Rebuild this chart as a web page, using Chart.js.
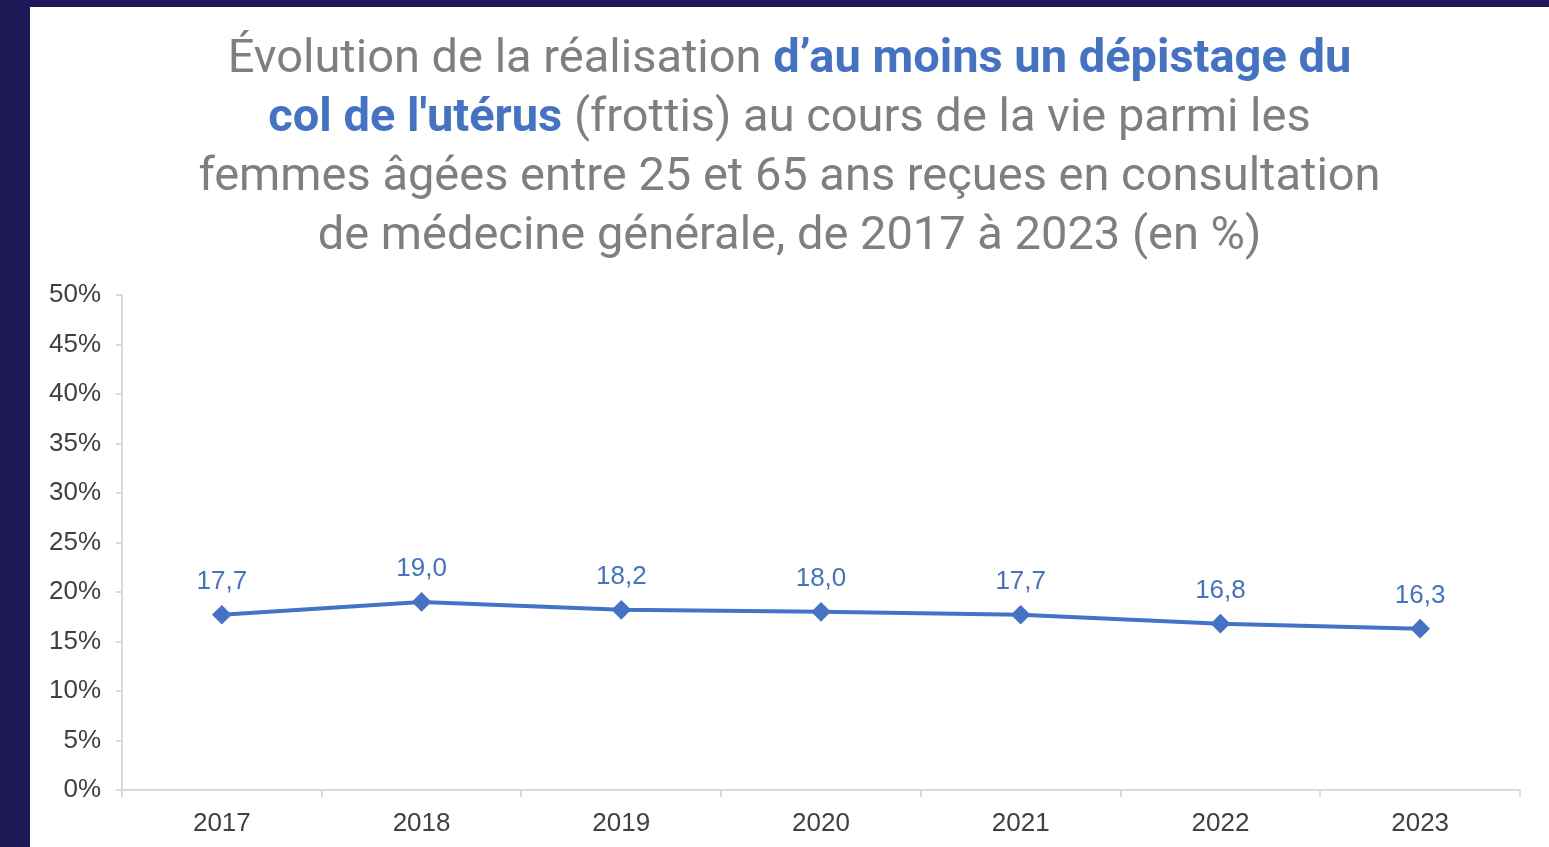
<!DOCTYPE html>
<html><head><meta charset="utf-8">
<script src="https://cdn.jsdelivr.net/npm/chart.js@4.4.1/dist/chart.umd.min.js"></script>
<style>
html,body{margin:0;padding:0;width:1549px;height:847px;overflow:hidden;background:#1f1a57;}
#panel{position:absolute;left:30px;top:7px;width:1519px;height:840px;background:#fff;}
#title{position:absolute;left:0;top:19px;width:1519px;text-align:center;font-family:Roboto,"Noto Sans",sans-serif;font-size:47px;line-height:59px;color:#7f7f7f;}
#title b{color:#4472c4;font-weight:700;}
#wrap{position:absolute;left:0;top:0;width:1519px;height:840px;}
</style></head><body>
<div id="panel">
<div id="wrap"><canvas id="c"></canvas></div>
<div id="title">Évolution de la réalisation <b>d’au moins un dépistage du<br>col de l'utérus</b> (frottis) au cours de la vie parmi les<br>femmes âgées entre 25 et 65 ans reçues en consultation<br>de médecine générale, de 2017 à 2023 (en %)</div>
</div>
<script>
const categories = ["2017","2018","2019","2020","2021","2022","2023"];
const values = [17.7, 19.0, 18.2, 18.0, 17.7, 16.8, 16.3];
const valueLabels = ["17,7","19,0","18,2","18,0","17,7","16,8","16,3"];

const labelPlugin = {
  id:'valLabels',
  afterDatasetsDraw(chart){
    const ctx = chart.ctx;
    const meta = chart.getDatasetMeta(0);
    ctx.save();
    ctx.font = '26px "Liberation Sans", Arial, sans-serif';
    ctx.fillStyle = '#4472c4';
    ctx.textAlign = 'center';
    ctx.textBaseline = 'middle';
    meta.data.forEach((pt,i)=>{ ctx.fillText(valueLabels[i], pt.x, pt.y - 33); });
    ctx.restore();
  }
};

new Chart(document.getElementById('c'), {
  type:'line',
  data:{labels:categories, datasets:[{data:values, borderColor:'#4472c4', backgroundColor:'#4472c4', borderWidth:4, pointStyle:'rectRot', pointRadius:7, pointHoverRadius:7, tension:0, fill:false}]},
  options:{
    responsive:true, maintainAspectRatio:false, animation:false,
    layout:{padding:{top:288,right:29,left:0,bottom:0}},
    plugins:{legend:{display:false}, title:{display:false}, tooltip:{enabled:false}},
    scales:{
      x:{offset:true,
        grid:{display:true, drawOnChartArea:false, drawTicks:true, tickLength:7, color:'#d9d9d9', lineWidth:2, offset:true},
        border:{display:true, color:'#d9d9d9', width:2},
        ticks:{font:{family:'"Liberation Sans", Arial, sans-serif', size:26}, color:'#404040', padding:11, maxRotation:0},
        afterFit(s){ s.height = 57; }
      },
      y:{min:0,max:50,
        grid:{display:true, drawOnChartArea:false, drawTicks:true, tickLength:6, color:'#d9d9d9', lineWidth:2},
        border:{display:true, color:'#d9d9d9', width:2},
        ticks:{stepSize:5, font:{family:'"Liberation Sans", Arial, sans-serif', size:26}, color:'#404040', padding:15, callback:v=>v+'%'},
        afterFit(s){ s.width = 92; }
      }
    }
  },
  plugins:[labelPlugin]
});
</script>
</body></html>
